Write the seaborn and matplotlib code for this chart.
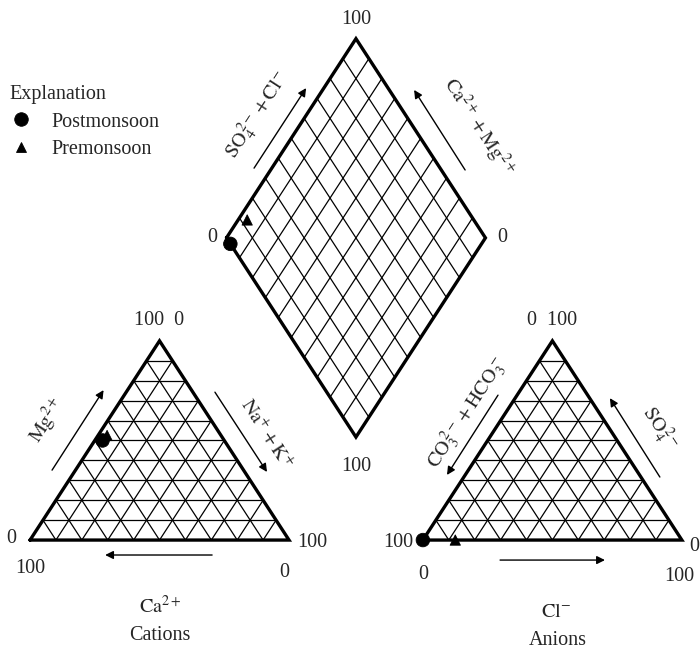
import numpy as np
import pandas as pd
import matplotlib
matplotlib.use("Agg")
import matplotlib.pyplot as plt
import seaborn as sns

# Piper diagram, post- vs pre-monsoon
# -----------------------------------

seasons = ["Postmonsoon", "Premonsoon"]
# cations, % meq
ca = [47.0, 44.0]
mg = [50.0, 52.5]
na_k = [3.0, 3.5]
# anions, % meq
hco3 = [100.0, 87.5]
so4 = [0.0, 0.0]
cl = [0.0, 12.5]

tick_lo, tick_hi = "0", "100"

sns.set_style("white")
plt.rcParams["font.family"] = ["Liberation Serif", "DejaVu Serif"]
plt.rcParams["mathtext.fontset"] = "stix"

H = np.sqrt(3) / 2
GAP = 51.7           # space between the two triangles
OFF = 100 + GAP      # x offset of the anion triangle
FS = 14.5
EDGE_LW, GRID_LW = 2.4, 0.9


def tri_xy(right, top, ox=0.0):
    """Ternary -> cartesian for a triangle sitting at x=ox"""
    return ox + right + top / 2, top * H


def diamond_xy(a, b):
    """a = Na+K fraction, b = Cl+SO4 fraction"""
    lx, ly = 50 + GAP / 2, 100 * H + GAP * H
    return lx + 50 * b + 50 * a, ly + 100 * H * b - 100 * H * a


def draw_triangle(ax, ox):
    for i in range(1, 10):
        t = i * 10
        ax.plot([ox + t / 2, ox + 100 - t / 2], [t * H, t * H], color="black", lw=GRID_LW)
        ax.plot([ox + t, ox + t + (100 - t) / 2], [0, (100 - t) * H], color="black", lw=GRID_LW)
        ax.plot([ox + t, ox + t / 2], [0, t * H], color="black", lw=GRID_LW)
    ax.plot([ox, ox + 100, ox + 50, ox], [0, 0, 100 * H, 0], color="black", lw=EDGE_LW,
            solid_joinstyle="miter")


def draw_diamond(ax):
    L = np.array(diamond_xy(0, 0))
    u = np.array(diamond_xy(0, 1)) - L
    v = np.array(diamond_xy(1, 0)) - L
    for i in range(1, 10):
        s = i / 10
        p = L + s * v
        ax.plot([p[0], p[0] + u[0]], [p[1], p[1] + u[1]], color="black", lw=GRID_LW)
        p = L + s * u
        ax.plot([p[0], p[0] + v[0]], [p[1], p[1] + v[1]], color="black", lw=GRID_LW)
    corners = np.array([L, L + u, L + u + v, L + v, L])
    ax.plot(corners[:, 0], corners[:, 1], color="black", lw=EDGE_LW, solid_joinstyle="miter")


def arrow(ax, p0, p1):
    ax.annotate("", xy=p1, xytext=p0,
                arrowprops=dict(arrowstyle="-|>", color="black", lw=1.0,
                                mutation_scale=12, shrinkA=0, shrinkB=0))


fig = plt.figure(figsize=(7, 6.5), dpi=100)
ax = fig.add_axes([0, 0, 1, 1])
ax.set_xlim(-11.6, 258.7)
ax.set_ylim(-47.8, 234.8)
ax.axis("off")

draw_triangle(ax, 0)
draw_triangle(ax, OFF)
draw_diamond(ax)

# project samples
rows = []
for k, s in enumerate(seasons):
    tot_c = ca[k] + mg[k] + na_k[k]
    tot_a = hco3[k] + so4[k] + cl[k]
    x, y = tri_xy(100 * na_k[k] / tot_c, 100 * mg[k] / tot_c)
    rows.append((s, x, y))
    x, y = tri_xy(100 * cl[k] / tot_a, 100 * so4[k] / tot_a, OFF)
    rows.append((s, x, y))
    x, y = diamond_xy(na_k[k] / tot_c, (cl[k] + so4[k]) / tot_a)
    rows.append((s, x, y))
pts = pd.DataFrame(rows, columns=["season", "x", "y"])

sns.scatterplot(data=pts, x="x", y="y", style="season", size="season",
                style_order=seasons, size_order=seasons,
                markers={"Postmonsoon": "o", "Premonsoon": "^"},
                sizes={"Postmonsoon": 95, "Premonsoon": 55},
                color="black", edgecolor="black", zorder=5, ax=ax)

handles, labels = ax.get_legend_handles_labels()
leg = ax.legend(handles, labels, title="Explanation", loc="upper left",
                bbox_to_anchor=(-0.007, 0.891), frameon=False, fontsize=FS,
                title_fontsize=FS, alignment="left", handletextpad=0.9,
                handlelength=1.2, labelspacing=0.42, borderaxespad=0.3)

# tick numbers
Ld = diamond_xy(0, 0)
Td = diamond_xy(0, 1)
Rd = diamond_xy(1, 1)
Bd = diamond_xy(1, 0)
ax.text(Td[0], Td[1] + 8.5, tick_hi, ha="center", va="center", fontsize=FS)
ax.text(Ld[0] - 5.5, Ld[1], tick_lo, ha="center", va="center", fontsize=FS)
ax.text(Rd[0] + 6.5, Rd[1], tick_lo, ha="center", va="center", fontsize=FS)
ax.text(Bd[0], Bd[1] - 13, tick_hi, ha="center", va="center", fontsize=FS)

for ox, top_txt in [(0, tick_hi + "  " + tick_lo), (OFF, tick_lo + "  " + tick_hi)]:
    ax.text(ox + 50, 100 * H + 9, top_txt, ha="center", va="center", fontsize=FS)

ax.text(-7.3, 0.5, tick_lo, ha="center", va="center", fontsize=FS)
ax.text(0, -12.2, tick_hi, ha="center", va="center", fontsize=FS)
ax.text(109, -1, tick_hi, ha="center", va="center", fontsize=FS)
ax.text(98, -13.9, tick_lo, ha="center", va="center", fontsize=FS)

ax.text(OFF - 9.5, -1, tick_hi, ha="center", va="center", fontsize=FS)
ax.text(OFF, -15, tick_lo, ha="center", va="center", fontsize=FS)
ax.text(OFF + 103, -3, tick_lo, ha="left", va="center", fontsize=FS)
ax.text(OFF + 99, -16, tick_hi, ha="center", va="center", fontsize=FS)

# arrows
arrow(ax, (70.3, -6.5), (29, -6.5))
arrow(ax, (8.5, 30.4), (28.4, 65.2))
arrow(ax, (71.4, 64.3), (91.5, 29.6))
arrow(ax, (OFF + 29.8, -8.7), (OFF + 70.3, -8.7))
arrow(ax, (OFF + 29, 63), (OFF + 9.3, 28.3))
arrow(ax, (OFF + 91.5, 27.4), (OFF + 72.2, 61.7))
arrow(ax, (86.5, 161.7), (106.6, 196.5))
arrow(ax, (168, 160.9), (148.3, 195.7))

# axis names
ax.text(6.6, 52, r"$\mathrm{Mg^{2+}}$", rotation=57, ha="center", va="center", fontsize=FS)
ax.text(90.7, 45.7, r"$\mathrm{Na^{+}+K^{+}}$", rotation=-57, ha="center", va="center", fontsize=FS)
ax.text(50.2, -29, r"$\mathrm{Ca^{2+}}$", ha="center", va="center", fontsize=FS)
ax.text(50.2, -41.3, "Cations", ha="center", va="center", fontsize=FS)

ax.text(OFF + 17.3, 55.2, r"$\mathrm{CO_3^{\,2-}+HCO_3^{\,-}}$", rotation=57,
        ha="center", va="center", fontsize=FS)
ax.text(OFF + 91.5, 48.7, r"$\mathrm{SO_4^{\,2-}}$", rotation=-57, ha="center", va="center", fontsize=FS)
ax.text(OFF + 51.3, -31.3, r"$\mathrm{Cl^{-}}$", ha="center", va="center", fontsize=FS)
ax.text(OFF + 52.2, -43.5, "Anions", ha="center", va="center", fontsize=FS)

ax.text(88, 184.8, r"$\mathrm{SO_4^{\,2-}+Cl^{-}}$", rotation=57, ha="center", va="center", fontsize=FS)
ax.text(173, 179.6, r"$\mathrm{Ca^{2+}+Mg^{2+}}$", rotation=-57, ha="center", va="center", fontsize=FS)

fig.savefig("out.png", dpi=100, facecolor="white")
